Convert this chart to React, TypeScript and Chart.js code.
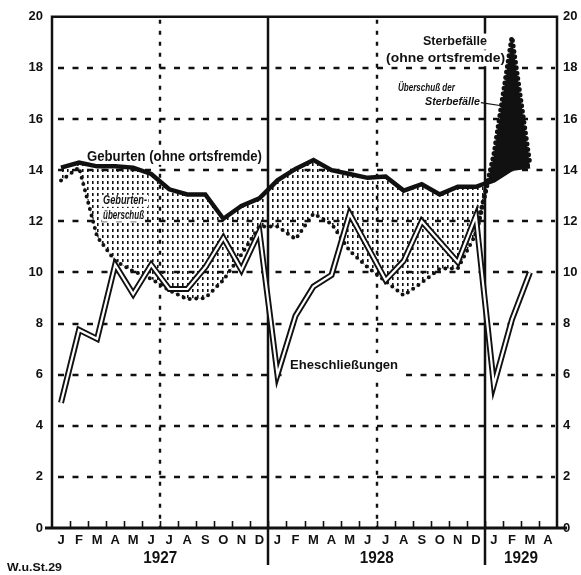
import React, { useEffect, useRef } from 'react';
import { Chart, registerables } from 'chart.js';

Chart.register(...registerables);

// ---- data ----
const MONTHS = [
  'J', 'F', 'M', 'A', 'M', 'J', 'J', 'A', 'S', 'O', 'N', 'D',
  'J', 'F', 'M', 'A', 'M', 'J', 'J', 'A', 'S', 'O', 'N', 'D',
  'J', 'F', 'M', 'A',
];
const YEARS = ['1927', '1928', '1929'];
const YEAR_FIRST = [0, 12, 24];
const YEAR_LAST = [11, 23, 27];

// Geburten (ohne ortsfremde), per 1000
const BIRTHS = [
  14.1, 14.3, 14.15, 14.15, 14.1, 13.85, 13.25, 13.05, 13.05, 12.1, 12.6, 12.9,
  13.6, 14.05, 14.4, 14.0, 13.85, 13.7, 13.75, 13.2, 13.45, 13.05, 13.35, 13.35,
  13.6, 14.05, 14.15, null,
];
// Sterbefälle (ohne ortsfremde)
const DEATHS = [
  13.6, 14.1, 11.4, 10.45, 10.05, 9.75, 9.3, 8.95, 9.0, 9.7, 10.7, 11.8,
  11.8, 11.3, 12.3, 11.9, 10.85, 10.2, 9.65, 9.1, 9.6, 10.15, 10.15, 11.5,
  14.6, 19.2, 14.2, null,
];
// Eheschließungen
const MARRIAGES = [
  4.9, 7.75, 7.4, 10.3, 9.15, 10.3, 9.35, 9.35, 10.2, 11.35, 10.1, 11.6,
  6.0, 8.3, 9.45, 9.9, 12.3, 11.0, 9.7, 10.45, 12.0, 11.2, 10.4, 12.2,
  5.6, 8.15, 10.0, null,
];
const Y_MIN = 0;
const Y_MAX = 20;
const Y_STEP = 2;

// annotation texts (position in data coordinates: month index, value)
const NOTES = [
  { text: 'Geburten (ohne ortsfremde)', i: 1.44, v: 14.52, w: 175, font: 'bold 14px', bg: [3, 8], over: false },
  { text: 'Geburten-', i: 2.33, v: 12.8, w: 44, font: 'italic bold 12px', bg: [1, 6], over: true },
  { text: 'überschuß', i: 2.33, v: 12.22, w: 41, font: 'italic bold 12px', bg: [1, 6], over: true },
  { text: 'Sterbefälle', i: 20.07, v: 19.03, w: 64, font: 'bold 13px', bg: [3, 8], over: false },
  { text: '(ohne ortsfremde)', i: 18.02, v: 18.38, w: 119, font: 'bold 13px', bg: [2, 8], over: false },
  { text: 'Überschuß der', i: 18.68, v: 17.22, w: 57, font: 'italic bold 10.5px', bg: null, over: false },
  { text: 'Sterbefälle', i: 20.18, v: 16.68, w: 55, font: 'italic bold 10.5px', bg: null, over: false },
  { text: 'Eheschließungen', i: 12.7, v: 6.37, w: 108, font: 'bold 13px', bg: [3, 12], over: false },
];

const FAMILY = "'Liberation Sans', Arial, sans-serif";

function drawFitted(ctx: CanvasRenderingContext2D, text: string, left: number, cy: number, w: number, font: string) {
  ctx.save();
  ctx.font = font + ' ' + FAMILY;
  const m = ctx.measureText(text).width;
  ctx.translate(left, cy);
  ctx.scale(w / m, 1);
  ctx.textAlign = 'left';
  ctx.textBaseline = 'middle';
  ctx.fillStyle = '#111';
  ctx.fillText(text, 0, 0);
  ctx.restore();
}

function noteBox(chart: any, n: any) {
  const x = chart.scales.x;
  const y = chart.scales.y;
  const left = x.getPixelForValue(0) + n.i * (x.getPixelForValue(1) - x.getPixelForValue(0));
  const cy = y.getPixelForValue(n.v);
  return { left, cy };
}

const decor = {
  id: 'decor',
  beforeDraw(chart: any) {
    const ctx = chart.ctx;
    ctx.save();
    ctx.fillStyle = '#fff';
    ctx.fillRect(0, 0, chart.width, chart.height);
    ctx.restore();
  },
  beforeDatasetsDraw(chart: any) {
    const { ctx, chartArea: a, scales } = chart;
    const x = scales.x;
    const y = scales.y;
    const bx = (k: number) => (x.getPixelForValue(k) + x.getPixelForValue(k + 1)) / 2;
    ctx.save();
    ctx.strokeStyle = '#111';
    // horizontal dashed grid
    ctx.lineWidth = 2.4;
    ctx.setLineDash([6, 8.5]);
    for (let v = Y_MIN + Y_STEP; v < Y_MAX; v += Y_STEP) {
      const py = Math.round(y.getPixelForValue(v));
      ctx.beginPath();
      ctx.moveTo(a.left + 6, py);
      ctx.lineTo(a.right - 2, py);
      ctx.stroke();
    }
    // mid-year dotted verticals
    ctx.setLineDash([4, 7]);
    for (const k of [5, 17]) {
      const px = Math.round(bx(k));
      ctx.beginPath();
      ctx.moveTo(px, a.top + 3);
      ctx.lineTo(px, a.bottom);
      ctx.stroke();
    }
    // year separators
    ctx.setLineDash([]);
    ctx.lineWidth = 2.5;
    for (const k of [11, 23]) {
      const px = Math.round(bx(k));
      ctx.beginPath();
      ctx.moveTo(px, a.top);
      ctx.lineTo(px, a.bottom + 37);
      ctx.stroke();
    }
    // white boxes behind labels (under the data)
    ctx.fillStyle = '#fff';
    for (const n of NOTES) {
      if (!n.bg || n.over) continue;
      const { left, cy } = noteBox(chart, n);
      ctx.fillRect(left - n.bg[0], cy - n.bg[1], n.w + 2 * n.bg[0], n.bg[1] * 2);
    }
    ctx.restore();
  },
  afterDatasetsDraw(chart: any) {
    const { ctx, chartArea: a, scales } = chart;
    const x = scales.x;
    const y = scales.y;
    const step = x.getPixelForValue(1) - x.getPixelForValue(0);
    const bx = (k: number) => (x.getPixelForValue(k) + x.getPixelForValue(k + 1)) / 2;
    ctx.save();
    ctx.strokeStyle = '#111';
    ctx.setLineDash([]);
    // frame
    ctx.lineWidth = 2.5;
    ctx.beginPath();
    ctx.moveTo(a.left, a.bottom);
    ctx.lineTo(a.left, a.top);
    ctx.lineTo(a.right, a.top);
    ctx.lineTo(a.right, a.bottom);
    ctx.stroke();
    // x axis line
    ctx.lineWidth = 3;
    ctx.beginPath();
    ctx.moveTo(a.left - 7, a.bottom);
    ctx.lineTo(a.right + 10, a.bottom);
    ctx.stroke();
    // month tick marks
    ctx.lineWidth = 1.6;
    for (let k = 0; k < MONTHS.length - 1; k++) {
      const px = Math.round(bx(k)) + 0.5;
      ctx.beginPath();
      ctx.moveTo(px, a.bottom);
      ctx.lineTo(px, a.bottom - 7);
      ctx.stroke();
    }
    // year labels
    for (let j = 0; j < YEARS.length; j++) {
      const l = x.getPixelForValue(YEAR_FIRST[j]) - step / 2;
      const r = x.getPixelForValue(YEAR_LAST[j]) + step / 2;
      const cx = (l + r) / 2;
      drawFitted(ctx, YEARS[j], cx - 17, a.bottom + 31, 34, 'bold 16px');
    }
    // annotations
    ctx.fillStyle = '#fff';
    for (const n of NOTES) {
      const { left, cy } = noteBox(chart, n);
      if (n.bg && n.over) {
        ctx.fillStyle = '#fff';
        ctx.fillRect(left - n.bg[0], cy - n.bg[1], n.w + 2 * n.bg[0], n.bg[1] * 2);
      }
      drawFitted(ctx, n.text, left, cy, n.w, n.font);
    }
    // leader line to the black area
    ctx.lineWidth = 1.2;
    ctx.beginPath();
    ctx.moveTo(x.getPixelForValue(0) + 23.28 * step, y.getPixelForValue(16.64));
    ctx.lineTo(x.getPixelForValue(0) + 24.33 * step, y.getPixelForValue(16.53));
    ctx.stroke();
    // source mark
    drawFitted(ctx, 'W.u.St.29', 7, a.bottom + 40, 55, 'bold 10px');
    ctx.restore();
  },
};

export default function App() {
  const ref = useRef<HTMLCanvasElement>(null);
  useEffect(() => {
    const canvas = ref.current!;
    const ctx2 = canvas.getContext('2d')!;
    const pc = document.createElement('canvas');
    pc.width = 5;
    pc.height = 6;
    const pctx = pc.getContext('2d')!;
    pctx.fillStyle = '#111';
    pctx.fillRect(2, 1, 1.6, 3);
    const stipple = ctx2.createPattern(pc, 'repeat')!;

    const chart = new Chart(canvas, {
      type: 'line',
      data: {
        labels: MONTHS,
        datasets: [
          {
            label: 'Geburten',
            data: BIRTHS,
            borderColor: '#111',
            borderWidth: 4.5,
            pointRadius: 0,
            tension: 0,
            fill: { target: 1, above: stipple, below: '#111' },
            order: 4,
          },
          {
            label: 'Sterbefälle',
            data: DEATHS,
            borderColor: '#111',
            borderWidth: 4,
            borderDash: [0, 6.5],
            borderCapStyle: 'round',
            pointRadius: 0,
            tension: 0,
            fill: false,
            order: 3,
            segment: {
              borderWidth: (c: any) => (c.p0DataIndex >= 23 ? 5 : 4),
              borderDash: (c: any) => (c.p0DataIndex >= 23 ? [0, 5.5] : [0, 6.5]),
            },
          },
          {
            label: 'Eheschließungen',
            data: MARRIAGES,
            borderColor: '#111',
            borderWidth: 6,
            pointRadius: 0,
            tension: 0,
            fill: false,
            order: 2,
          },
          {
            label: 'Eheschließungen (innen)',
            data: MARRIAGES,
            borderColor: '#fff',
            borderWidth: 2.2,
            pointRadius: 0,
            tension: 0,
            fill: false,
            order: 1,
          },
        ],
      },
      options: {
        responsive: false,
        animation: false,
        devicePixelRatio: 1,
        layout: { padding: { top: 10, left: 0, right: 0, bottom: 0 } },
        plugins: { legend: { display: false }, tooltip: { enabled: false } },
        font: { family: FAMILY },
        scales: {
          x: {
            type: 'category',
            offset: true,
            grid: { display: false, drawTicks: false },
            border: { display: false },
            ticks: {
              autoSkip: false,
              maxRotation: 0,
              padding: 5,
              color: '#111',
              font: { family: FAMILY, size: 13, weight: 'bold' },
            },
            afterFit: (s: any) => { s.height = 47; },
          },
          y: {
            position: 'left',
            min: Y_MIN,
            max: Y_MAX,
            grid: { display: false, drawTicks: false },
            border: { display: false },
            ticks: {
              stepSize: Y_STEP,
              padding: 9,
              color: '#111',
              font: { family: FAMILY, size: 13, weight: 'bold' },
            },
            afterFit: (s: any) => { s.width = 52; },
          },
          y2: {
            position: 'right',
            min: Y_MIN,
            max: Y_MAX,
            grid: { display: false, drawTicks: false },
            border: { display: false },
            ticks: {
              stepSize: Y_STEP,
              padding: 6,
              color: '#111',
              font: { family: FAMILY, size: 13, weight: 'bold' },
            },
            afterFit: (s: any) => { s.width = 24; },
          },
        },
      } as any,
      plugins: [decor],
    });
    return () => chart.destroy();
  }, []);
  return (
    <div style={{ position: 'absolute', left: 0, top: 0, width: 581, height: 575, background: '#fff' }}>
      <canvas ref={ref} width={581} height={575} style={{ display: 'block', width: 581, height: 575 }} />
    </div>
  );
}
